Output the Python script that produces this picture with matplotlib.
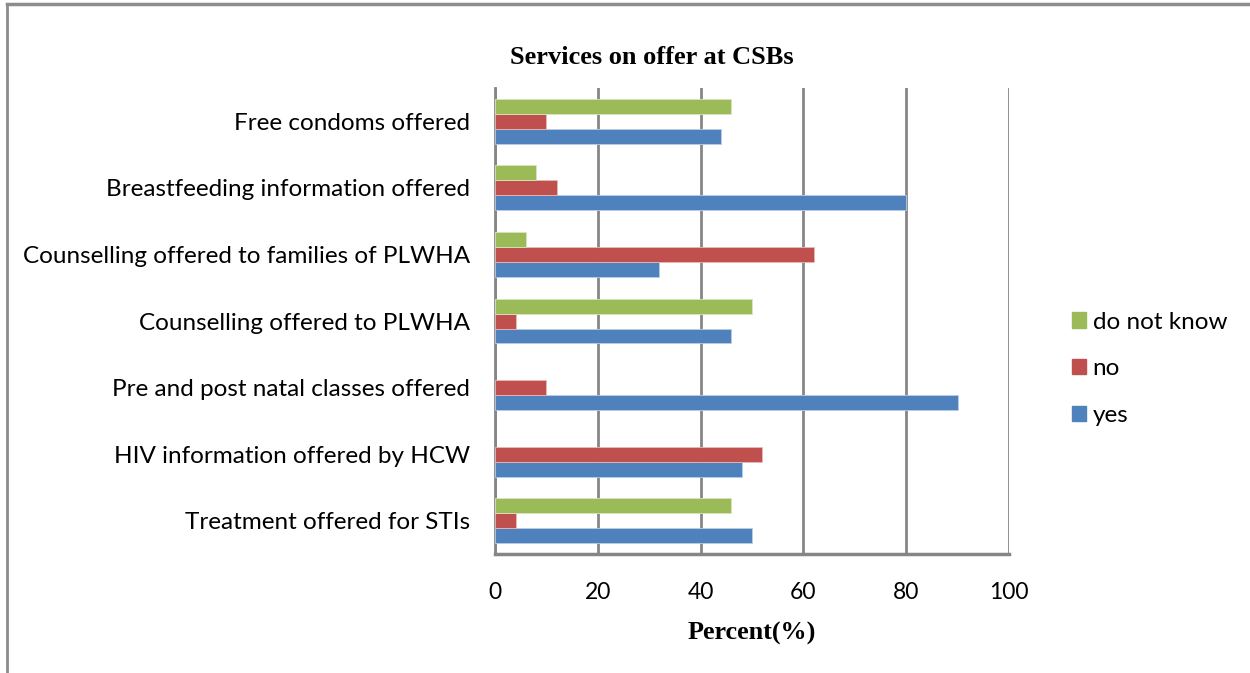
import matplotlib.pyplot as plt
from matplotlib.lines import Line2D
import numpy as np

# data, read top to bottom in the chart
services = ['Free condoms offered',
            'Breastfeeding information offered',
            'Counselling offered to families of PLWHA',
            'Counselling offered to PLWHA',
            'Pre and post natal classes offered',
            'HIV information offered by HCW',
            'Treatment offered for STIs']
yes = [44, 80, 32, 46, 90, 48, 50]
no = [10, 12, 62, 4, 10, 52, 4]
dont_know = [46, 8, 6, 50, 0, 0, 46]

blue = '#4F81BD'
red = '#C0504D'
green = '#9BBB59'
grid_col = '#868686'

fig = plt.figure(figsize=(12.5, 6.73), dpi=100)
ax = fig.add_axes([0.396, 0.1768, 0.4112, 0.6924])

n = len(services)
pos = np.arange(n)[::-1]  # first category at the top
h = 0.225


def edge_widths(vals):
    # no outline on empty bars, otherwise a sliver shows at zero
    return [0.6 if v > 0 else 0 for v in vals]


ax.barh(pos - h, yes, height=h, color=blue, edgecolor='#B9CDE5', linewidth=edge_widths(yes), label='yes', zorder=3)
ax.barh(pos, no, height=h, color=red, edgecolor='#E6B9B8', linewidth=edge_widths(no), label='no', zorder=3)
ax.barh(pos + h, dont_know, height=h, color=green, edgecolor='#D7E4BD', linewidth=edge_widths(dont_know), label='do not know', zorder=3)

ax.set_xlim(0, 100)
ax.set_ylim(-0.5, n - 0.5)
ax.set_xticks(range(0, 101, 20))
ax.set_yticks(pos)
ax.set_yticklabels(services, fontsize=17.5, family='Lato')
for lab in ax.get_xticklabels():
    lab.set_fontsize(16.5)
    lab.set_family('Lato')
ax.tick_params(axis='y', length=0, pad=18)
ax.tick_params(axis='x', length=0, pad=20)

ax.grid(axis='x', color=grid_col, linewidth=2, zorder=0)
for side in ['top', 'right']:
    ax.spines[side].set_visible(False)
ax.spines['left'].set_color(grid_col)
ax.spines['left'].set_linewidth(2)
ax.spines['bottom'].set_color(grid_col)
ax.spines['bottom'].set_linewidth(2.5)

ax.set_xlabel('Percent(%)', fontsize=18.8, fontweight='bold', family='Liberation Serif', labelpad=14)
fig.text(0.5216, 0.915, 'Services on offer at CSBs', ha='center', va='center',
         fontsize=19, fontweight='bold', family='Liberation Serif')

handles = [plt.Rectangle((0, 0), 1, 1, color=green),
           plt.Rectangle((0, 0), 1, 1, color=red),
           plt.Rectangle((0, 0), 1, 1, color=blue)]
fig.legend(handles, ['do not know', 'no', 'yes'], loc='center left',
           bbox_to_anchor=(0.84, 0.452), frameon=False,
           prop={'family': 'Lato', 'size': 17.5}, handlelength=0.6, handleheight=0.6,
           handletextpad=0.25, labelspacing=1.05)

# outer frame of the embedded chart
fig.add_artist(Line2D([0.0056, 1.0], [0.994, 0.994], color='#8C8C8C', linewidth=2.5, transform=fig.transFigure))
fig.add_artist(Line2D([0.0056, 0.0056], [0.0, 0.994], color='#8C8C8C', linewidth=2, transform=fig.transFigure))

fig.savefig('out.png', dpi=100, facecolor='white')
